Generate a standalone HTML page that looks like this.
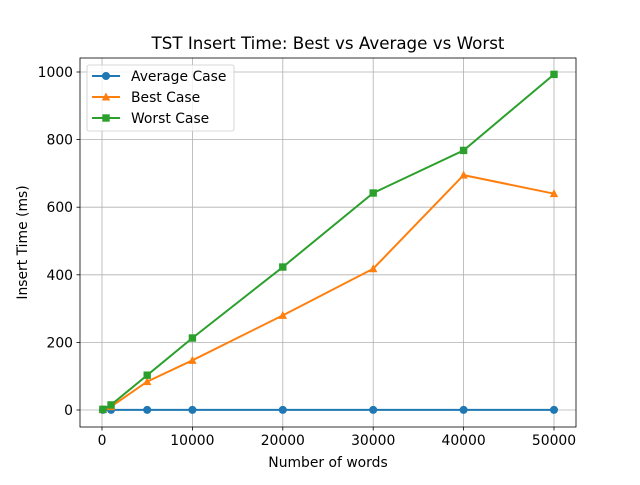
<!DOCTYPE html>
<html><head><meta charset="utf-8"><style>
body{margin:0;background:#fff;font-family:"Liberation Sans","DejaVu Sans",sans-serif}
svg text{font-family:"DejaVu Sans","Liberation Sans",sans-serif}
</style></head><body>
<svg id="chart" width="640" height="480" xmlns="http://www.w3.org/2000/svg"></svg>
<script>
const xValues=[100,1000,5000,10000,20000,30000,40000,50000];
const averageCase=[0.2,0.3,0.4,0.4,0.4,0.4,0.4,0.4];
const bestCase=[1,10,84,147,280,418,695,640];
const worstCase=[2,15,103,213,423,642,768,993];
const xTicks=[0,10000,20000,30000,40000,50000];
const yTicks=[0,200,400,600,800,1000];
const seriesNames=["Average Case","Best Case","Worst Case"];

const L=80,R=576,T=58,B=427;
const X=v=>102+v*452/50000;
const Y=v=>410-v*338/1000;
const NS="http://www.w3.org/2000/svg";
const svg=document.getElementById('chart');
function mk(tag,attrs,parent){const e=document.createElementNS(NS,tag);for(const k in attrs)e.setAttribute(k,attrs[k]);(parent||svg).appendChild(e);return e;}

const grid=mk('g',{});


xTicks.forEach(t=>{
  mk('line',{x1:X(t),x2:X(t),y1:T,y2:B,stroke:'#b0b0b0','stroke-width':0.8},grid);
  mk('line',{x1:X(t),x2:X(t),y1:B,y2:B+3.5,stroke:'#000','stroke-width':0.8});
  const tx=mk('text',{x:X(t),y:B+18,'font-size':13.9,'text-anchor':'middle'});tx.textContent=t;
  
  
});
yTicks.forEach(t=>{
  mk('line',{x1:L,x2:R,y1:Y(t),y2:Y(t),stroke:'#b0b0b0','stroke-width':0.8},grid);
  mk('line',{x1:L-3.5,x2:L,y1:Y(t),y2:Y(t),stroke:'#000','stroke-width':0.8});
  const tx=mk('text',{x:L-7,y:Y(t)+5,'font-size':13.9,'text-anchor':'end'});tx.textContent=t;
  
  
});
const colors=['#1f77b4','#ff7f0e','#2ca02c'];
const data=[averageCase,bestCase,worstCase];
function marker(i,cx,cy,g){
  if(i===0) mk('circle',{cx,cy,r:4,fill:colors[i]},g);
  else if(i===1) mk('polygon',{points:`${cx},${cy-4.5} ${cx-4.2},${cy+3.5} ${cx+4.2},${cy+3.5}`,fill:colors[i]},g);
  else mk('rect',{x:cx-3.7,y:cy-3.7,width:7.4,height:7.4,fill:colors[i]},g);
}
data.forEach((d,i)=>{
  const g=mk('g',{});
  
  
  mk('polyline',{points:d.map((v,j)=>X(xValues[j])+','+Y(v)).join(' '),fill:'none',stroke:colors[i],'stroke-width':2},g);
  d.forEach((v,j)=>marker(i,X(xValues[j]),Y(v),g));
});
const frame=mk('rect',{x:L,y:T,width:R-L,height:B-T,fill:'none',stroke:'#000','stroke-width':0.8});


const title=mk('text',{x:(L+R)/2,y:49,'font-size':16.7,'text-anchor':'middle'});title.textContent='TST Insert Time: Best vs Average vs Worst';


const xl=mk('text',{x:(L+R)/2,y:467,'font-size':13.9,'text-anchor':'middle'});xl.textContent='Number of words';


const yl=mk('text',{x:27,y:(T+B)/2,'font-size':13.9,'text-anchor':'middle',transform:`rotate(-90 27 ${(T+B)/2})`});yl.textContent='Insert Time (ms)';


const lg=mk('g',{});


mk('rect',{x:87,y:65,width:147,height:66,rx:2,fill:'#fff','fill-opacity':0.8,stroke:'#ccc','stroke-width':0.8},lg);
seriesNames.forEach((n,i)=>{
  const y=76+i*21;
  const e=mk('g',{},lg);
  
  
  mk('line',{x1:92,x2:120,y1:y,y2:y,stroke:colors[i],'stroke-width':2},e);
  marker(i,106,y,e);
  const t=mk('text',{x:131,y:y+5,'font-size':13.9},e);t.textContent=n;
});
</script>
</body></html>
